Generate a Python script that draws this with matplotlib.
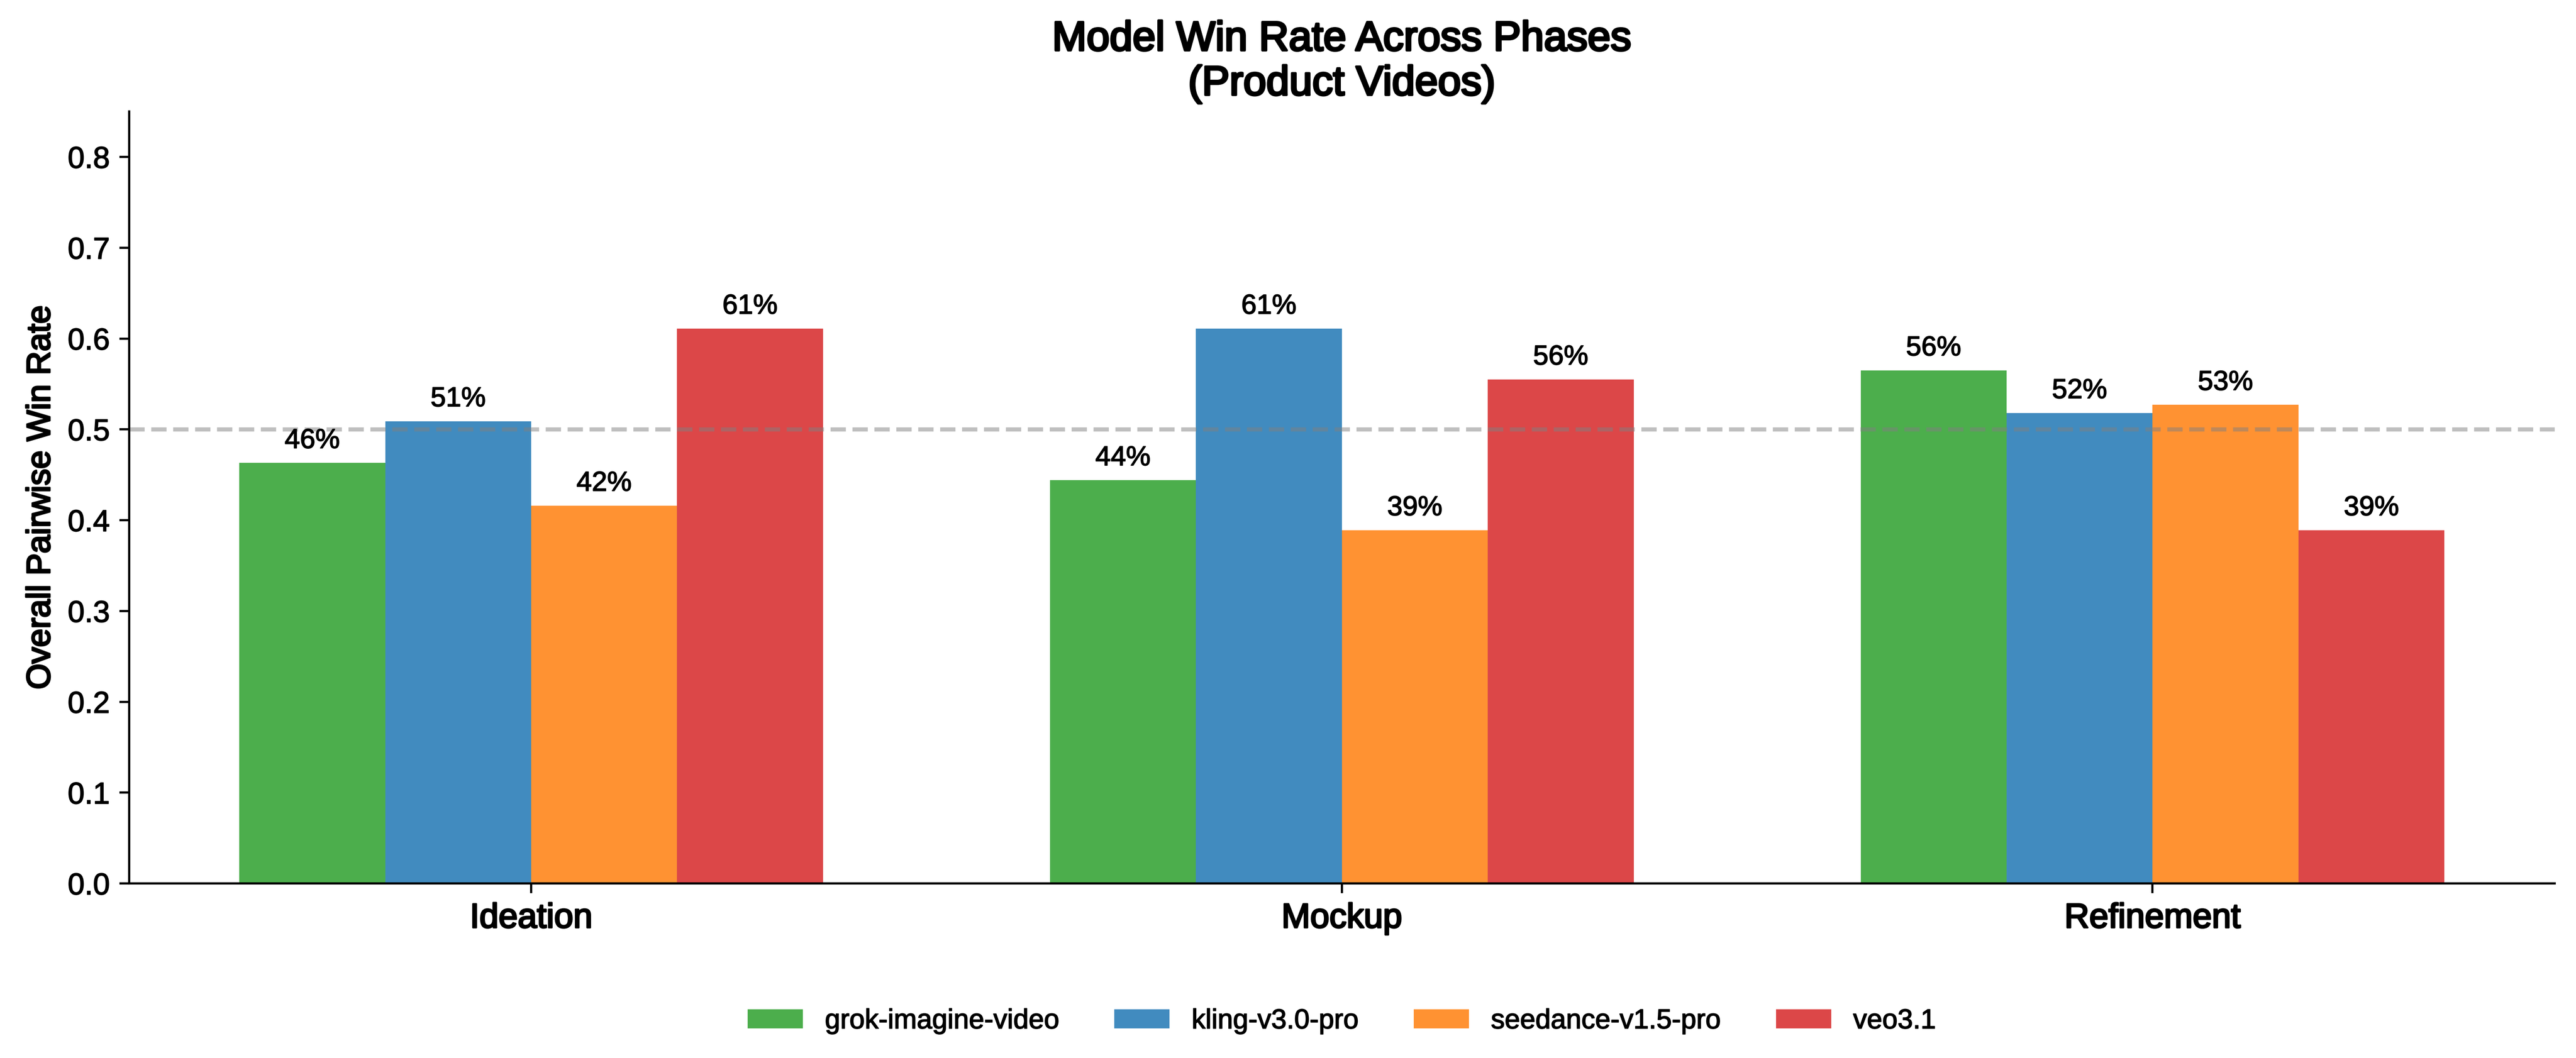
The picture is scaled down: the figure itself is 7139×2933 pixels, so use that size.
import numpy as np
import matplotlib
matplotlib.use("Agg")
import matplotlib.pyplot as plt
import matplotlib.patheffects as pe

plt.rcParams['font.family'] = ['Liberation Sans', 'DejaVu Sans']

phases = ["Ideation", "Mockup", "Refinement"]
models = ["grok-imagine-video", "kling-v3.0-pro", "seedance-v1.5-pro", "veo3.1"]
colors = ["tab:green", "tab:blue", "tab:orange", "tab:red"]

grok = [0.463, 0.444, 0.565]
kling = [0.509, 0.611, 0.518]
seedance = [0.416, 0.389, 0.527]
veo = [0.611, 0.555, 0.389]
series = [grok, kling, seedance, veo]

# slightly heavier strokes to mimic a medium-weight grotesk
heavy = [pe.withStroke(linewidth=0.8, foreground='black')]
med = [pe.withStroke(linewidth=0.6, foreground='black')]
light = [pe.withStroke(linewidth=0.3, foreground='black')]

dpi = 550
fig, ax = plt.subplots(figsize=(7139 / dpi, 2933 / dpi), dpi=dpi)
fig.subplots_adjust(left=0.0501, right=0.9917, bottom=0.165, top=0.8946)

x = np.arange(len(phases))
width = 0.18
for i, (name, vals, c) in enumerate(zip(models, series, colors)):
    pos = x + (i - 1.5) * width
    ax.bar(pos, vals, width, label=name, color=c, alpha=0.85)
    for px, v in zip(pos, vals):
        ax.text(px, v + 0.01, f"{v:.0%}", ha='center', va='bottom',
                fontsize=10, path_effects=light)

ax.axhline(0.5, color='gray', linestyle='--', linewidth=1.5, alpha=0.5)

ax.set_ylim(0, 0.85)
ax.set_xticks(x)
ax.set_xticklabels(phases, fontsize=12.5, path_effects=med)
ax.tick_params(axis='y', labelsize=11)
for lbl in ax.get_yticklabels():
    lbl.set_path_effects(light)
ax.set_ylabel("Overall Pairwise Win Rate", fontsize=12, path_effects=med)
ax.set_title("Model Win Rate Across Phases\n(Product Videos)", fontsize=15,
             path_effects=heavy)
ax.spines['top'].set_visible(False)
ax.spines['right'].set_visible(False)

leg = ax.legend(loc='upper center', bbox_to_anchor=(0.5, -0.13), ncol=4,
                frameon=False, fontsize=10)
for t in leg.get_texts():
    t.set_path_effects(light)

fig.savefig("out.png", dpi=dpi)
